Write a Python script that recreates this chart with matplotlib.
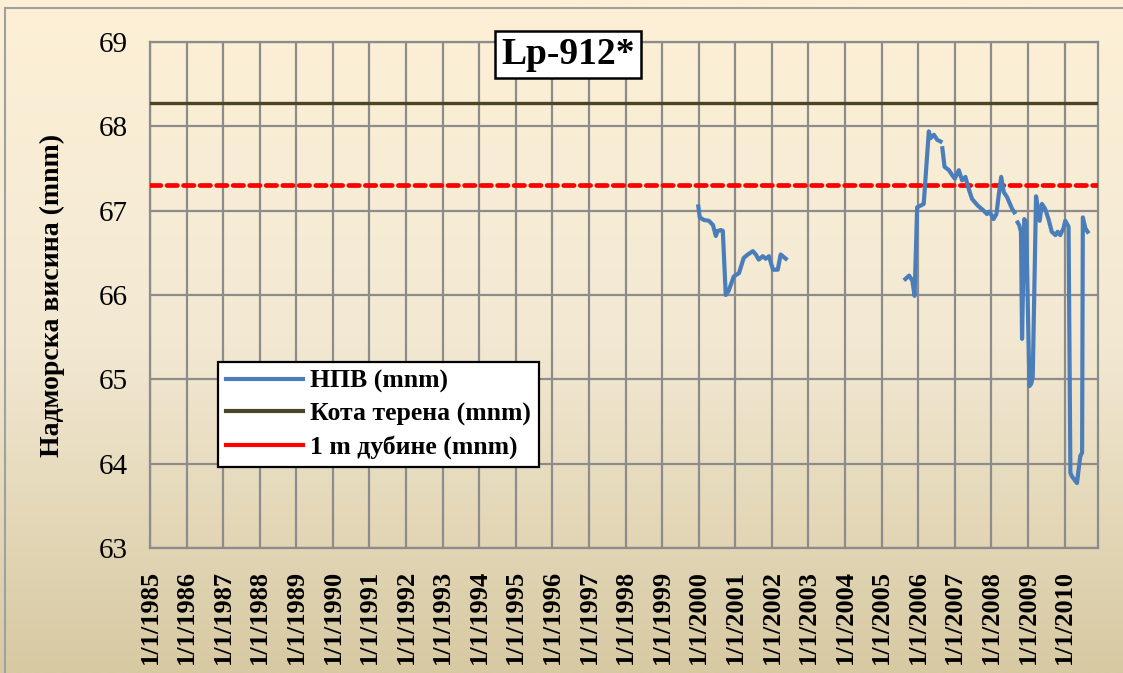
import matplotlib.pyplot as plt
import matplotlib.dates as mdates
from matplotlib.colors import LinearSegmentedColormap
from matplotlib.patches import Rectangle
import numpy as np
import pandas as pd

# decimal years / levels (nan = gap in the record)
npv_years = [1999.99, 2000.03, 2000.14, 2000.28, 2000.39, 2000.47, 2000.52, 2000.61, 2000.66,
             2000.74, 2000.82, 2000.96, 2001.10, 2001.23, 2001.34, 2001.48, 2001.56, 2001.64,
             2001.75, 2001.83, 2001.92, 2002.03, 2002.16, 2002.24, 2002.38,
             2003.0,
             2005.65, 2005.75, 2005.84, 2005.90, 2005.97, 2006.11, 2006.15, 2006.29, 2006.34,
             2006.43, 2006.52, 2006.61, 2006.63, 2006.66, 2006.72, 2006.84, 2006.93, 2007.00,
             2007.11, 2007.20, 2007.29, 2007.38, 2007.47, 2007.63, 2007.79, 2007.88, 2007.95,
             2008.06, 2008.14, 2008.20, 2008.27, 2008.34, 2008.43, 2008.47, 2008.57, 2008.63,
             2008.67, 2008.72, 2008.76, 2008.81, 2008.84, 2008.90, 2008.95, 2009.04, 2009.09,
             2009.13, 2009.22, 2009.32, 2009.38, 2009.47, 2009.56, 2009.65, 2009.75, 2009.81,
             2009.88, 2009.97, 2010.02, 2010.11, 2010.16, 2010.20, 2010.34, 2010.43, 2010.48,
             2010.50, 2010.57, 2010.63]
npv = [67.05, 66.92, 66.89, 66.88, 66.83, 66.70, 66.76, 66.77, 66.76,
       66.00, 66.05, 66.22, 66.26, 66.44, 66.48, 66.52, 66.48, 66.42,
       66.46, 66.43, 66.46, 66.30, 66.30, 66.48, 66.43,
       np.nan,
       66.19, 66.23, 66.17, 65.99, 67.04, 67.07, 67.08, 67.94, 67.86,
       67.90, 67.84, 67.82, np.nan, 67.74, 67.52, 67.48, 67.42, 67.38,
       67.48, 67.36, 67.40, 67.26, 67.14, 67.06, 67.00, 66.96, 66.99,
       66.90, 66.96, 67.18, 67.40, 67.22, 67.16, 67.12, 67.02, 66.98,
       np.nan, 66.86, 66.83, 66.75, 65.48, 66.90, 66.87, 64.92, 64.95,
       65.03, 67.17, 66.88, 67.08, 67.02, 66.90, 66.75, 66.71, 66.75,
       66.71, 66.79, 66.88, 66.81, 63.89, 63.85, 63.77, 64.09, 64.13,
       66.92, 66.79, 66.75]
kota_terena = 68.28
dubina_1m = 67.30

years = list(range(1985, 2011))
y_ticks = [63, 64, 65, 66, 67, 68, 69]


def to_date(y):
    y0 = int(np.floor(y))
    return pd.Timestamp(year=y0, month=1, day=1) + pd.Timedelta(days=(y - y0) * 365.25)


dates = [to_date(y) for y in npv_years]
x_start = pd.Timestamp('1985-01-01')
x_end = pd.Timestamp('2010-12-01')

fig = plt.figure(figsize=(11.23, 6.73), dpi=100)

# gradient background
bg = fig.add_axes([0, 0, 1, 1], zorder=-10)
cmap = LinearSegmentedColormap.from_list('bg', ['#fdf0d6', '#f3e9d3', '#d7c9a2'])
bg.imshow(np.linspace(0, 1, 256).reshape(-1, 1), aspect='auto', cmap=cmap,
          extent=[0, 1, 0, 1])
bg.add_patch(Rectangle((5 / 1123, -0.01), 1.1, 1 - 8 / 673 + 0.01, fill=False,
                       edgecolor='#a0a0a0', lw=1.5, transform=bg.transAxes))
bg.set_xlim(0, 1)
bg.set_ylim(0, 1)
bg.axis('off')

ax = fig.add_axes([150 / 1123, 1 - 548 / 673, (1098 - 150) / 1123, (548 - 42) / 673])
ax.patch.set_alpha(0)

ax.plot(dates, npv, color='#4a7ebb', lw=3.0, label='НПВ (mnm)', zorder=4)
ax.plot([x_start, x_end], [kota_terena, kota_terena], color='#4a4527', lw=2.4,
        label='Кота терена (mnm)', zorder=3)
ax.plot([x_start, x_end], [dubina_1m, dubina_1m], color='#ff0000', lw=3.4,
        dashes=(2.2, 1.3), dash_capstyle='round', label='1 m дубине (mnm)', zorder=3)

ax.set_xlim(x_start, x_end)
ax.set_ylim(63, 69)
ax.set_yticks(y_ticks)
ax.set_xticks([pd.Timestamp(year=y, month=1, day=1) for y in years])
ax.xaxis.set_major_formatter(mdates.DateFormatter('1/1/%Y'))
ax.grid(True, color='#8c8c8c', lw=1.6)
ax.set_axisbelow(True)
for s in ax.spines.values():
    s.set_color('#8c8c8c')
    s.set_linewidth(1.6)
ax.tick_params(axis='y', length=0, pad=16)
ax.tick_params(axis='x', length=0, pad=16)
for lab in ax.get_yticklabels():
    lab.set_fontfamily('Liberation Serif')
    lab.set_fontsize(21)
for lab in ax.get_xticklabels():
    lab.set_fontfamily('Liberation Serif')
    lab.set_fontsize(19)
    lab.set_fontweight('bold')
    lab.set_rotation(90)

ax.set_ylabel('Надморска висина (mnm)', fontfamily='Liberation Serif', fontsize=20,
              fontweight='bold', labelpad=24)

ax.text(0.441, 0.976, 'Lp-912*', transform=ax.transAxes, ha='center', va='center',
        fontfamily='Liberation Serif', fontsize=27, fontweight='bold',
        bbox=dict(boxstyle='square,pad=0.16', facecolor='white', edgecolor='black', lw=1.8),
        zorder=6)

leg = ax.legend(loc='upper left', bbox_to_anchor=(218 / 1123, 1 - 362 / 673),
                bbox_transform=fig.transFigure, frameon=True, fancybox=False,
                edgecolor='black', framealpha=1, borderpad=0.3, borderaxespad=0,
                handlelength=3.0, labelspacing=0.36, handletextpad=0.3,
                prop={'family': 'Liberation Serif', 'size': 18.5, 'weight': 'bold'})
leg.get_frame().set_linewidth(1.6)
for h in leg.get_lines():
    h.set_linestyle('-')
    h.set_linewidth(3)

fig.savefig('out.png', dpi=100)
